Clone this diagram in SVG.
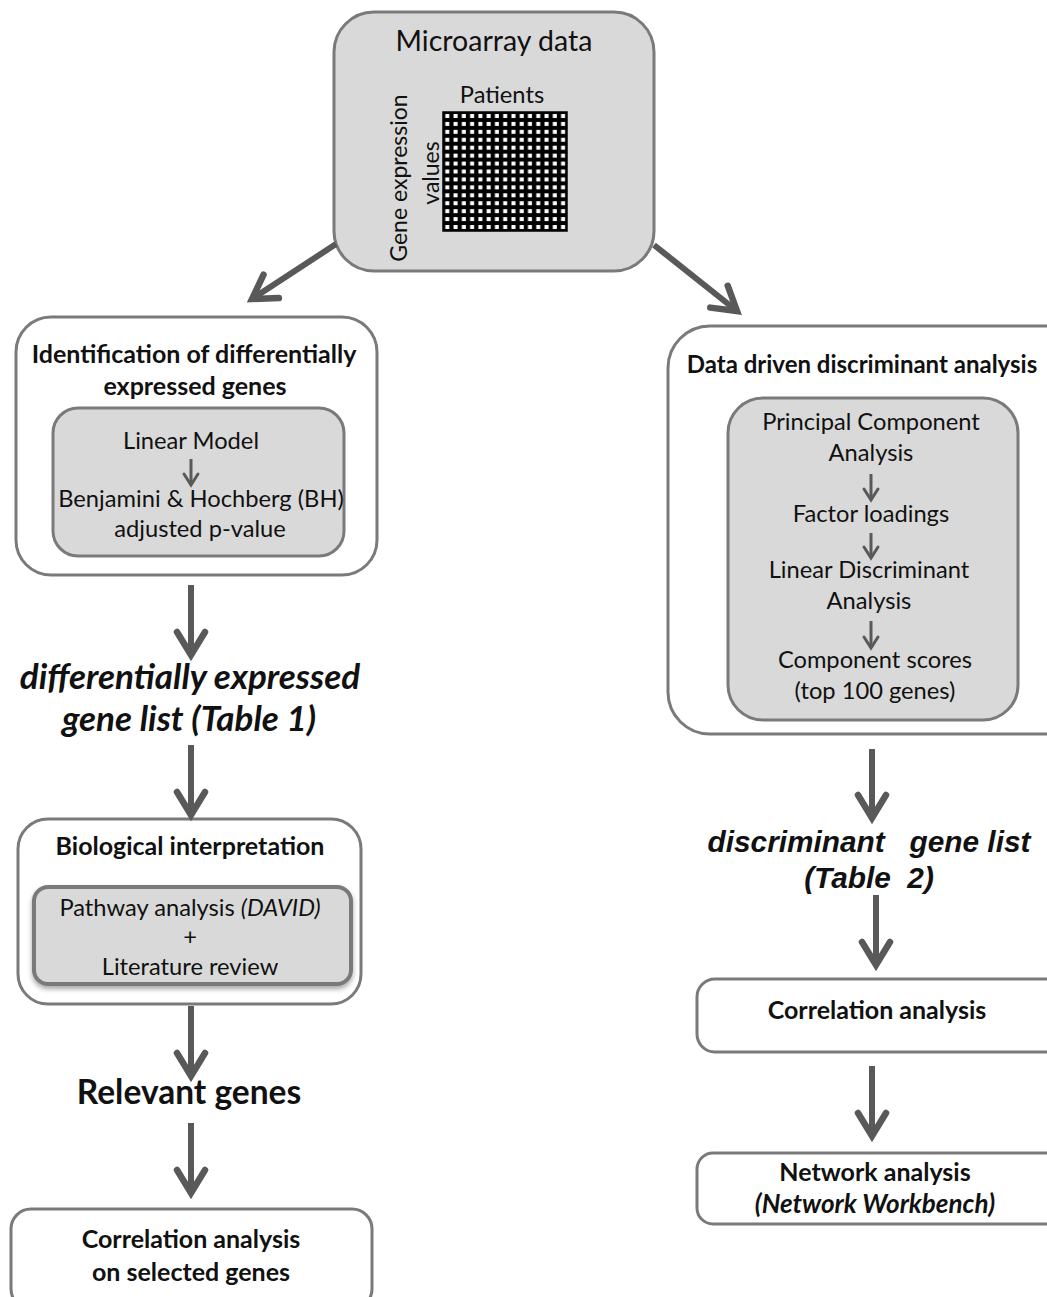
<svg xmlns="http://www.w3.org/2000/svg" width="1047" height="1297" viewBox="0 0 1047 1297">
<defs>
<style>
.box{fill:#ffffff;stroke:#7a7a7a;stroke-width:3}
.inner{fill:#d9d9d9;stroke:#7a7a7a;stroke-width:3}
.t{font-family:Lato,"Open Sans",sans-serif;fill:#111;text-anchor:middle;font-size:23.7px}
.b{font-weight:bold;font-size:25px}
.bi{font-weight:bold;font-style:italic}
.ar{font-family:"Liberation Sans",Arial,sans-serif;font-weight:bold;font-style:italic;fill:#111;text-anchor:middle;font-size:29.8px}
.big{stroke:#595959;stroke-width:6;fill:none}
.small{stroke:#595959;stroke-width:3;fill:none}
</style>
<marker id="hb" markerUnits="userSpaceOnUse" markerWidth="40" markerHeight="40" viewBox="-30 -20 40 40" refX="0" refY="0" orient="auto">
<path d="M-23,-14 L0,0 L-23,14" fill="none" stroke="#595959" stroke-width="6.5" stroke-linecap="round"/>
</marker>
<marker id="hs" markerUnits="userSpaceOnUse" markerWidth="20" markerHeight="20" viewBox="-15 -10 20 20" refX="0" refY="0" orient="auto">
<path d="M-11,-7 L0,0 L-11,7" fill="none" stroke="#595959" stroke-width="3" stroke-linecap="round"/>
</marker>
<pattern id="grid" patternUnits="userSpaceOnUse" x="443" y="112" width="8.27" height="7.93">
<rect width="8.27" height="7.93" fill="#000"/>
<rect x="2.3" y="2" width="4" height="4" fill="#fff"/>
</pattern>
<filter id="sh" x="-10%" y="-10%" width="120%" height="130%">
<feDropShadow dx="0" dy="3" stdDeviation="2.5" flood-color="#000" flood-opacity="0.35"/>
</filter>
</defs>
<rect width="1047" height="1297" fill="#fff"/>

<g id="microarray">
<rect x="334" y="12" width="320" height="259" rx="40" class="inner"/>
<text x="494" y="51" class="t" style="font-size:28.5px">Microarray data</text>
<text x="502" y="103" class="t">Patients</text>
<text transform="translate(398,178) rotate(-90)" class="t" style="font-size:23px" dominant-baseline="central">Gene expression</text>
<text transform="translate(430,173) rotate(-90)" class="t" style="font-size:23px" dominant-baseline="central">values</text>
<rect x="443" y="112" width="124" height="119" fill="url(#grid)" stroke="#000" stroke-width="1.5"/>
</g>

<g id="degs">
<rect x="16" y="317" width="361" height="258" rx="35" class="box"/>
<text x="194" y="363" class="t b">Identification of differentially</text>
<text x="195" y="395" class="t b">expressed genes</text>
<rect x="53" y="408" width="291" height="148" rx="25" class="inner"/>
<text x="191" y="449" class="t">Linear Model</text>
<line x1="191" y1="459" x2="191" y2="485" class="small" marker-end="url(#hs)"/>
<text x="201" y="507" class="t">Benjamini &amp; Hochberg (BH)</text>
<text x="200" y="537" class="t">adjusted p-value</text>
</g>

<g id="delist">
<text x="190" y="689" class="t bi" style="font-size:35px">differentially expressed</text>
<text x="189" y="731" class="t bi" style="font-size:35px">gene list (Table 1)</text>
</g>

<g id="bio">
<rect x="18" y="819" width="343" height="185" rx="30" class="box"/>
<text x="190" y="855" class="t b">Biological interpretation</text>
<rect x="34" y="887" width="317" height="97" rx="14" fill="#d9d9d9" stroke="#7a7a7a" stroke-width="4" filter="url(#sh)"/>
<text x="190" y="916" class="t">Pathway analysis <tspan font-style="italic">(DAVID)</tspan></text>
<text x="190" y="945" class="t">+</text>
<text x="190" y="975" class="t">Literature review</text>
</g>

<g id="relevant">
<text x="189" y="1104" class="t b" style="font-size:33.5px">Relevant genes</text>
</g>

<g id="corrsel">
<rect x="11" y="1209" width="361" height="100" rx="20" class="box"/>
<text x="191" y="1248" class="t b">Correlation analysis</text>
<text x="191" y="1281" class="t b">on selected genes</text>
</g>

<g id="dda">
<rect x="668" y="326" width="420" height="408" rx="42" class="box"/>
<text x="862" y="373" class="t b" style="font-size:24px">Data driven discriminant analysis</text>
<rect x="728" y="398" width="290" height="322" rx="35" class="inner"/>
<text x="871" y="430" class="t">Principal Component</text>
<text x="871" y="461" class="t">Analysis</text>
<line x1="871" y1="474" x2="871" y2="500" class="small" marker-end="url(#hs)"/>
<text x="871" y="522" class="t">Factor loadings</text>
<line x1="871" y1="533" x2="871" y2="558" class="small" marker-end="url(#hs)"/>
<text x="869" y="578" class="t">Linear Discriminant</text>
<text x="869" y="609" class="t">Analysis</text>
<line x1="871" y1="621" x2="871" y2="648" class="small" marker-end="url(#hs)"/>
<text x="875" y="668" class="t">Component scores</text>
<text x="875" y="699" class="t">(top 100 genes)</text>
</g>

<g id="disclist">
<text x="869" y="852" class="ar" xml:space="preserve">discriminant   gene list</text>
<text x="869" y="888" class="ar" xml:space="preserve">(Table  2)</text>
</g>

<g id="corr">
<rect x="697" y="979" width="380" height="73" rx="18" class="box"/>
<text x="877" y="1019" class="t b">Correlation analysis</text>
</g>

<g id="network">
<rect x="697" y="1153" width="380" height="71" rx="16" class="box"/>
<text x="875" y="1181" class="t b">Network analysis</text>
<text x="875" y="1213" class="t bi" style="font-size:26px">(Network Workbench)</text>
</g>

<g id="connectors">
<line x1="336" y1="244" x2="252" y2="299" class="big" marker-end="url(#hb)"/>
<line x1="654" y1="245" x2="737" y2="311" class="big" marker-end="url(#hb)"/>
<line x1="191" y1="585" x2="191" y2="655" class="big" marker-end="url(#hb)"/>
<line x1="191" y1="745" x2="191" y2="815" class="big" marker-end="url(#hb)"/>
<line x1="191" y1="1006" x2="191" y2="1076" class="big" marker-end="url(#hb)"/>
<line x1="191" y1="1123" x2="191" y2="1193" class="big" marker-end="url(#hb)"/>
<line x1="872" y1="749" x2="872" y2="818" class="big" marker-end="url(#hb)"/>
<line x1="876" y1="895" x2="876" y2="965" class="big" marker-end="url(#hb)"/>
<line x1="872" y1="1066" x2="872" y2="1136" class="big" marker-end="url(#hb)"/>
</g>
</svg>
